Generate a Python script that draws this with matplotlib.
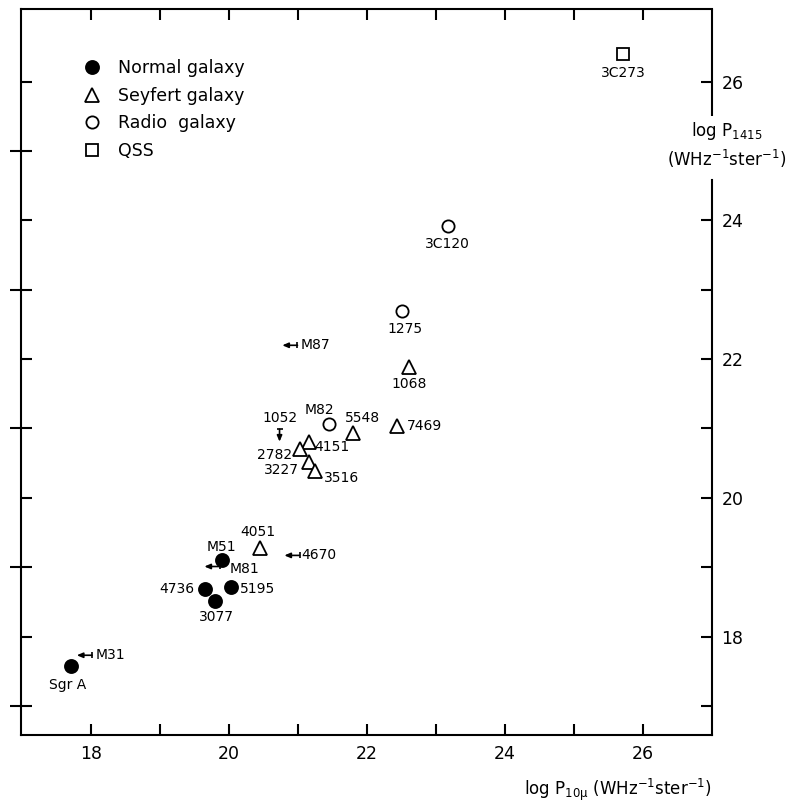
import numpy as np
import matplotlib
matplotlib.use("Agg")
import matplotlib.pyplot as plt
from matplotlib.lines import Line2D

plt.rcParams['font.family'] = ['DejaVu Sans']
plt.rcParams['mathtext.default'] = 'regular'

# Data (log P_10micron, log P_1415)
normal_names = ["M51", "4736", "5195", "3077", "Sgr A"]
normal_x = [19.90, 19.65, 20.02, 19.79, 17.70]
normal_y = [19.11, 18.69, 18.71, 18.51, 17.58]

seyfert_names = ["1068", "5548", "7469", "4151", "2782", "3227", "3516", "4051"]
seyfert_x = [22.61, 21.80, 22.43, 21.15, 21.02, 21.16, 21.24, 20.44]
seyfert_y = [21.88, 20.94, 21.03, 20.81, 20.71, 20.51, 20.38, 19.27]

radio_names = ["3C120", "1275", "M82"]
radio_x = [23.17, 22.51, 21.45]
radio_y = [23.92, 22.70, 21.07]

qss_names = ["3C273"]
qss_x = [25.71]
qss_y = [26.40]

# upper limits in x (arrow to the left)
xlim_names = ["M87", "M81", "4670", "M31"]
xlim_x = [20.99, 19.86, 21.02, 18.01]
xlim_y = [22.20, 19.01, 19.17, 17.73]

# upper limit in y (arrow down)
ylim_names = ["1052"]
ylim_x = [20.73]
ylim_y = [20.99]

# label placement: offset in pixels and alignment
label_pos = {
    "3C273": (0, -19, "center"), "3C120": (0, -18, "center"),
    "1275": (3, -18, "center"), "1068": (0, -17, "center"),
    "M87": (3, 0, "left"), "M82": (-10, 14, "center"),
    "5548": (9, 15, "center"), "7469": (10, 0, "left"),
    "4151": (6, -5, "left"), "2782": (-7, -6, "right"),
    "1052": (0, 11, "center"), "3227": (-10, -8, "right"),
    "3516": (9, -7, "left"), "4051": (-2, 16, "center"),
    "M51": (-1, 13, "center"), "M81": (10, -3, "left"),
    "4670": (2, 0, "left"), "4736": (-11, 0, "right"),
    "5195": (9, -2, "left"), "3077": (2, -16, "center"),
    "M31": (4, 0, "left"), "Sgr A": (-3, -19, "center"),
}

fig = plt.figure(figsize=(7.91, 8.01), dpi=100)
ax = fig.add_axes([0.0265, 0.0824, 0.8735, 0.9064])
ax.set_xlim(16.98, 27.0)
ax.set_ylim(16.58, 27.05)

lw = 1.5
kw = dict(linestyle='none', color='black', markeredgewidth=1.3)
ax.plot(normal_x, normal_y, marker='o', ms=9.4, markerfacecolor='black', **kw)
ax.plot(seyfert_x, seyfert_y, marker='^', ms=9.5, markerfacecolor='white', **kw)
ax.plot(radio_x, radio_y, marker='o', ms=8.8, markerfacecolor='white', **kw)
ax.plot(qss_x, qss_y, marker='s', ms=8.5, markerfacecolor='white', **kw)

arrow_kw = dict(arrowstyle='-|>,head_length=0.35,head_width=0.15', color='black',
                lw=1.2, shrinkA=0, shrinkB=0)
for x, y in zip(xlim_x, xlim_y):
    ax.annotate('', xy=(x - 0.22, y), xytext=(x, y), arrowprops=arrow_kw)
    ax.plot([x], [y], marker='|', ms=5, color='black', mew=1.2)
for x, y in zip(ylim_x, ylim_y):
    ax.annotate('', xy=(x, y - 0.18), xytext=(x, y), arrowprops=arrow_kw)
    ax.plot([x], [y], marker='_', ms=5, color='black', mew=1.2)

all_names = normal_names + seyfert_names + radio_names + qss_names + xlim_names + ylim_names
all_x = normal_x + seyfert_x + radio_x + qss_x + xlim_x + ylim_x
all_y = normal_y + seyfert_y + radio_y + qss_y + xlim_y + ylim_y
for name, x, y in zip(all_names, all_x, all_y):
    dx, dy, ha = label_pos[name]
    ax.annotate(name, xy=(x, y), xytext=(dx, dy), textcoords='offset pixels',
                ha=ha, va='center', fontsize=10)

# axes and ticks
for s in ax.spines.values():
    s.set_linewidth(lw)
ax.spines['right'].set_bounds(16.58, 24.59)
ax.plot([1, 1], [25.51, 27.05], color='black', lw=lw, clip_on=False,
        transform=ax.get_yaxis_transform(), solid_capstyle='butt')

ax.set_xticks([18, 20, 22, 24, 26])
ax.set_xticks([19, 21, 23, 25], minor=True)
ax.tick_params(axis='x', which='both', direction='in', top=True, bottom=True,
               length=8, width=lw, labelsize=12.5, pad=7)

ax.set_yticks([18, 20, 22, 24, 26])
ax.set_yticks([17, 19, 21, 23, 25], minor=True)
ax.tick_params(axis='y', which='major', direction='in', left=True, right=False,
               labelleft=False, length=8, width=lw)
ax.tick_params(axis='y', which='minor', direction='inout', left=True, right=False,
               length=16.5, width=lw)

sec = ax.secondary_yaxis('right')
sec.spines['right'].set_visible(False)
sec.set_yticks([18, 20, 22, 24, 26])
sec.set_yticks([17, 19, 21, 23], minor=True)
sec.tick_params(axis='y', which='both', direction='in', length=8, width=lw,
                labelsize=12.5, pad=7)

ax.text(1.021, 0.813, "log P$_{1415}$\n(WHz$^{-1}$ster$^{-1}$)", transform=ax.transAxes,
        ha='center', va='center', fontsize=12, linespacing=1.3)
ax.text(1.0, -0.075, "log P$_{10μ}$ (WHz$^{-1}$ster$^{-1}$)", transform=ax.transAxes,
        ha='right', va='center', fontsize=12)

handles = [
    Line2D([], [], marker='o', ms=9.4, markerfacecolor='black', **kw),
    Line2D([], [], marker='^', ms=9.5, markerfacecolor='white', **kw),
    Line2D([], [], marker='o', ms=8.8, markerfacecolor='white', **kw),
    Line2D([], [], marker='s', ms=8.5, markerfacecolor='white', **kw),
]
ax.legend(handles, ["Normal galaxy", "Seyfert galaxy", "Radio  galaxy", "QSS"],
          loc='upper left', bbox_to_anchor=(0.093, 0.931), frameon=False,
          prop={'size': 12.5}, handlelength=0.8, handletextpad=1.1, labelspacing=0.55,
          borderpad=0, borderaxespad=0)

fig.savefig("out.png", dpi=100)
